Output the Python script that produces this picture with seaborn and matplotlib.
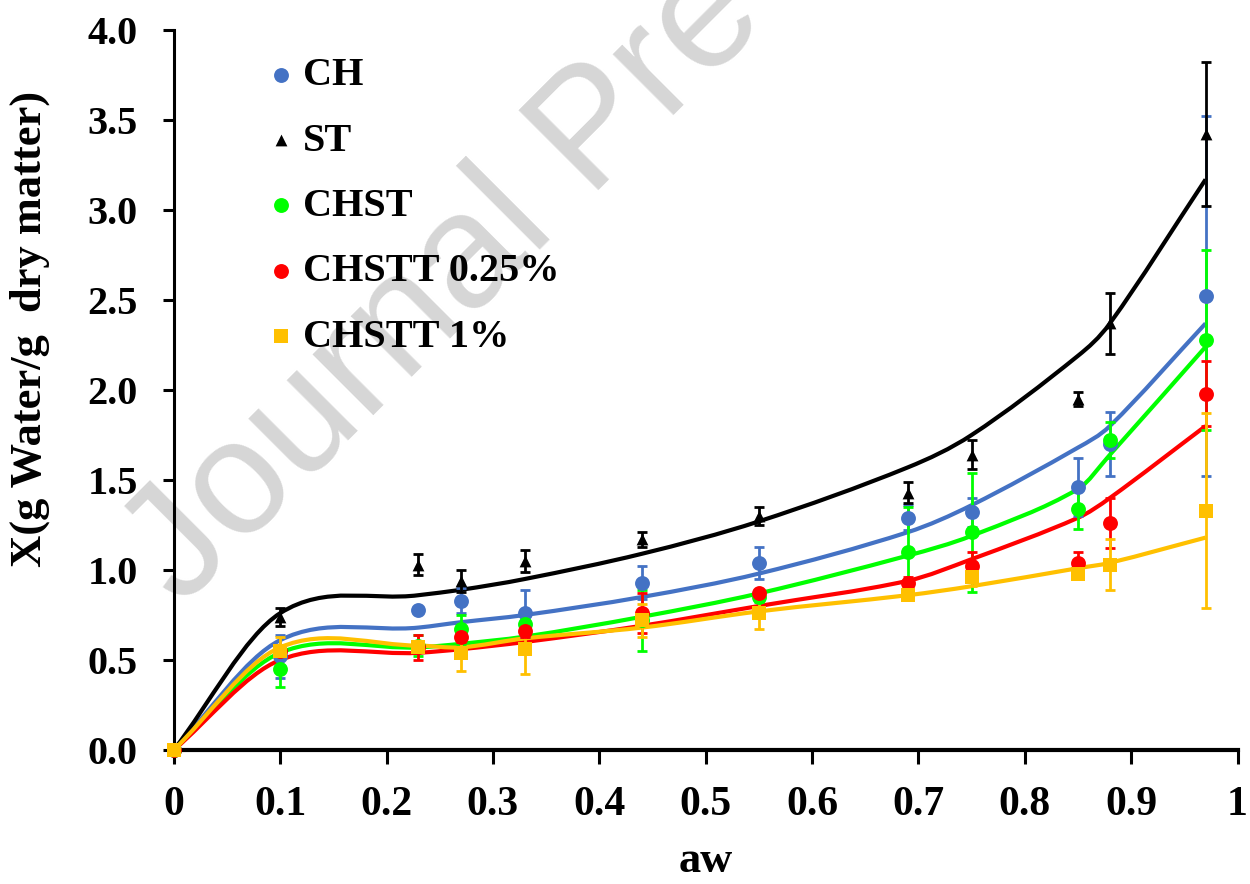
import numpy as np
import seaborn as sns
import matplotlib
matplotlib.use("Agg")
import matplotlib.pyplot as plt
from matplotlib.path import Path
from matplotlib.patches import PathPatch

# water activity of the measurement points
aw = [0, 0.10, 0.23, 0.27, 0.33, 0.44, 0.55, 0.69, 0.75, 0.85, 0.88, 0.97]

# experimental moisture content (g water / g dry matter) and error
ch = [0, 0.52, 0.78, 0.83, 0.76, 0.93, 1.04, 1.29, 1.32, 1.46, 1.70, 2.52]
ch_err = [0, 0.12, 0.01, 0.07, 0.13, 0.09, 0.09, 0.07, 0.08, 0.16, 0.18, 1.00]
st = [0, 0.74, 1.03, 0.94, 1.05, 1.17, 1.30, 1.43, 1.64, 1.95, 2.37, 3.42]
st_err = [0, 0.05, 0.06, 0.06, 0.06, 0.04, 0.05, 0.06, 0.08, 0.04, 0.17, 0.40]
chst = [0, 0.45, 0.58, 0.67, 0.70, 0.72, 0.85, 1.10, 1.21, 1.34, 1.72, 2.28]
chst_err = [0, 0.10, 0.06, 0.08, 0.03, 0.17, 0.03, 0.25, 0.33, 0.11, 0.10, 0.50]
chstt025 = [0, 0.55, 0.57, 0.63, 0.66, 0.76, 0.87, 0.93, 1.02, 1.04, 1.26, 1.98]
chstt025_err = [0, 0.03, 0.07, 0.03, 0.03, 0.11, 0.02, 0.03, 0.08, 0.06, 0.14, 0.18]
chstt1 = [0, 0.55, 0.57, 0.54, 0.56, 0.72, 0.76, 0.86, 0.96, 0.98, 1.03, 1.33]
chstt1_err = [0, 0.08, 0.02, 0.10, 0.14, 0.09, 0.09, 0.02, 0.05, 0.03, 0.14, 0.54]

# model (fitted) values at the same aw
ch_fit = [0, 0.61, 0.68, 0.71, 0.75, 0.85, 0.98, 1.21, 1.36, 1.68, 1.80, 2.37]
st_fit = [0, 0.76, 0.86, 0.89, 0.95, 1.09, 1.27, 1.57, 1.75, 2.19, 2.37, 3.17]
chst_fit = [0, 0.54, 0.57, 0.59, 0.63, 0.74, 0.87, 1.08, 1.19, 1.45, 1.64, 2.24]
chstt025_fit = [0, 0.50, 0.54, 0.56, 0.60, 0.69, 0.80, 0.94, 1.06, 1.29, 1.40, 1.80]
chstt1_fit = [0, 0.57, 0.58, 0.57, 0.62, 0.68, 0.77, 0.86, 0.91, 1.01, 1.04, 1.18]

labels = ["CH", "ST", "CHST", "CHSTT 0.25%", "CHSTT 1%"]
colors = ["#4472C4", "#000000", "#00FF00", "#FF0000", "#FFC000"]
markers = ["o", "^", "o", "o", "s"]
sizes = [115, 72, 115, 115, 88]

measured = [ch, st, chst, chstt025, chstt1]
errors = [ch_err, st_err, chst_err, chstt025_err, chstt1_err]
fitted = [ch_fit, st_fit, chst_fit, chstt025_fit, chstt1_fit]


def smooth_path(xs, ys):
    # smoothed line: cubic Hermite segments (as Bezier) through the points
    x = np.asarray(xs, float)
    y = np.asarray(ys, float)
    n = len(x)
    m = np.empty(n)
    m[0] = (y[1] - y[0]) / (x[1] - x[0])
    m[-1] = (y[-1] - y[-2]) / (x[-1] - x[-2])
    m[1:-1] = (y[2:] - y[:-2]) / (x[2:] - x[:-2])
    verts = [(x[0], y[0])]
    codes = [Path.MOVETO]
    for i in range(n - 1):
        h = (x[i + 1] - x[i]) / 3
        verts += [(x[i] + h, y[i] + m[i] * h),
                  (x[i + 1] - h, y[i + 1] - m[i + 1] * h),
                  (x[i + 1], y[i + 1])]
        codes += [Path.CURVE4] * 3
    return Path(verts, codes)


sns.set_theme(style="ticks")
plt.rcParams["font.family"] = ["Liberation Serif", "DejaVu Serif"]
plt.rcParams["font.weight"] = "bold"
plt.rcParams["text.color"] = "black"
plt.rcParams["axes.labelcolor"] = "black"
plt.rcParams["xtick.color"] = "black"
plt.rcParams["ytick.color"] = "black"

fig, ax = plt.subplots(figsize=(12.5, 8.84), dpi=100)
fig.subplots_adjust(left=0.139, right=0.990, bottom=0.1516, top=0.966)

for y, fit, err, lab, col, mk, sz in zip(measured, fitted, errors, labels,
                                          colors, markers, sizes):
    ax.add_patch(PathPatch(smooth_path(aw, fit), facecolor="none",
                           edgecolor=col, lw=3, zorder=2, clip_on=False))
    ax.errorbar(aw, y, yerr=err, fmt="none", ecolor=col, elinewidth=2,
                capsize=3.6, capthick=2, zorder=3, clip_on=False)
    sns.scatterplot(x=aw, y=y, ax=ax, marker=mk, color=col, s=sz,
                    linewidth=0, label=lab, zorder=4, clip_on=False)

ax.set_xlim(0, 1)
ax.set_ylim(0, 4)
ax.set_xticks(np.arange(0, 1.01, 0.1))
ax.set_xticklabels(["0", "0.1", "0.2", "0.3", "0.4", "0.5", "0.6", "0.7",
                    "0.8", "0.9", "1"])
ax.set_yticks(np.arange(0, 4.01, 0.5))
ax.set_yticklabels([f"{v:.1f}" for v in np.arange(0, 4.01, 0.5)])

sns.despine(ax=ax)
ax.spines["left"].set_linewidth(2.2)
ax.spines["bottom"].set_linewidth(3)
ax.spines["left"].set_color("black")
ax.spines["bottom"].set_color("black")
ax.tick_params(axis="y", direction="out", length=8, width=2.2,
               labelsize=29, pad=18, colors="black")
ax.tick_params(axis="x", direction="out", length=10, width=2.2,
               labelsize=30, pad=16, colors="black")

ax.set_xlabel("aw", fontsize=32, fontweight="bold", color="black")
ax.xaxis.set_label_coords(0.5, -0.127)
ax.set_ylabel("X(g Water/g  dry matter)", fontsize=32, fontweight="bold",
              color="black")
ax.yaxis.set_label_coords(-0.116, 0.585)

leg = ax.legend(loc="upper left", bbox_to_anchor=(0.0855, 0.9625),
                frameon=False, fontsize=29, handlelength=0.8,
                handletextpad=0.15, labelspacing=0.70, borderpad=0,
                borderaxespad=0)
for t in leg.get_texts():
    t.set_fontweight("bold")
    t.set_color("black")

# watermark of the source page
ax.text(0.1448, 0.312, "Journal Pre-proof", transform=fig.transFigure,
        rotation=45, rotation_mode="anchor", ha="left", va="baseline",
        fontsize=117, color="#d6d6d6", family="Liberation Sans",
        fontweight="normal", zorder=1, clip_on=False)

fig.savefig("out.png", dpi=100)
